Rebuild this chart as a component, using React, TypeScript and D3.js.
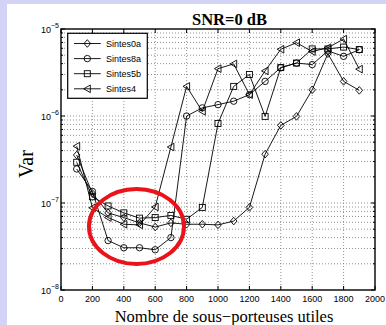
import React from "react";
import * as d3 from "d3";

const xs = [100, 200, 300, 400, 500, 600, 700, 800, 900, 1000, 1100, 1200, 1300, 1400, 1500, 1600, 1700, 1800, 1900];
const sintes0a = [3.56e-7, 1.29e-7, 7.7e-8, 6.8e-8, 5.9e-8, 5.3e-8, 5.9e-8, 5.7e-8, 5.7e-8, 5.6e-8, 6.2e-8, 8.9e-8, 3.64e-7, 7.8e-7, 9.9e-7, 2.0e-6, 5.2e-6, 2.5e-6, 1.97e-6];
const sintes8a = [2.46e-7, 1.36e-7, 3.7e-8, 3.06e-8, 3.06e-8, 2.9e-8, 4.0e-8, 1.0e-6, 1.24e-6, 1.35e-6, 1.48e-6, 1.76e-6, 2.5e-6, 3.6e-6, 4.06e-6, 3.9e-6, 5.6e-6, 4.85e-6, 5.78e-6];
const sintes5b = [2.94e-7, 1.18e-7, 9.25e-8, 7.7e-8, 6.7e-8, 6.8e-8, 7.2e-8, 6.5e-8, 8.9e-8, 8.2e-7, 2.19e-6, 3.0e-6, 9.9e-7, 3.6e-6, 4.06e-6, 5.9e-6, 5.9e-6, 6.2e-6, 5.8e-6];
const sintes4 = [4.5e-7, 8.8e-8, 6.8e-8, 5.7e-8, 5.6e-8, 9.0e-8, 4.4e-7, 2.19e-6, 1.13e-6, 3.5e-6, 3.97e-6, 1.76e-6, 3.3e-6, 5.85e-6, 6.96e-6, 5.5e-6, 6.1e-6, 7.65e-6, 3.46e-6];

const seriesNames = ["Sintes0a", "Sintes8a", "Sintes5b", "Sintes4"];
const markerTypes = ["diamond", "circle", "square", "triangle"];
const seriesValues = [sintes0a, sintes8a, sintes5b, sintes4];

const xTicks = [0, 200, 400, 600, 800, 1000, 1200, 1400, 1600, 1800, 2000];
const yMajor = [1e-8, 1e-7, 1e-6, 1e-5];
const yExp = ["−8", "−7", "−6", "−5"];

const W = 386, H = 325;
const L = 61, R = 375, T = 29, B = 290;

function Marker({ type, x, y }: { type: string; x: number; y: number }) {
  const s = "#000";
  if (type === "circle") return <circle cx={x} cy={y} r={3.2} fill="none" stroke={s} strokeWidth={0.9} />;
  if (type === "square") return <rect x={x - 3} y={y - 3} width={6} height={6} fill="none" stroke={s} strokeWidth={0.9} />;
  if (type === "diamond") return <path d={`M${x},${y - 3.8}L${x + 3.3},${y}L${x},${y + 3.8}L${x - 3.3},${y}Z`} fill="none" stroke={s} strokeWidth={0.9} />;
  return <path d={`M${x - 3.6},${y}L${x + 3},${y - 3.8}L${x + 3},${y + 3.8}Z`} fill="none" stroke={s} strokeWidth={0.9} />;
}

export default function App() {
  const x = d3.scaleLinear().domain([0, 2000]).range([L, R]);
  const y = d3.scaleLog().domain([1e-8, 1e-5]).range([B, T]);
  const minor: number[] = [];
  for (let e = -8; e < -5; e++) for (let m = 2; m <= 9; m++) minor.push(m * Math.pow(10, e));
  const line = d3.line<[number, number]>().x(d => x(d[0])).y(d => y(d[1]));
  const grid = "#777";
  return (
    <svg width={W} height={H} style={{ position: "absolute", left: 0, top: 0 }}>
      <rect x={0} y={0} width={W} height={H} fill="#d3d3f6" />
      <rect x={7} y={4} width={W - 7} height={H - 4} fill="#fff" />
      {/* grid */}
      {xTicks.slice(1, -1).map(t => (
        <line key={"gx" + t} x1={x(t)} x2={x(t)} y1={T} y2={B} stroke={grid} strokeWidth={0.8} strokeDasharray="1,2" />
      ))}
      {[...minor, ...yMajor.slice(1, -1)].map((t, i) => (
        <line key={"gy" + i} x1={L} x2={R} y1={y(t)} y2={y(t)} stroke={grid} strokeWidth={0.8} strokeDasharray="1,2" />
      ))}
      {/* ticks */}
      {xTicks.map(t => (
        <g key={"tx" + t}>
          <line x1={x(t)} x2={x(t)} y1={B} y2={B - 4} stroke="#000" />
          <line x1={x(t)} x2={x(t)} y1={T} y2={T + 4} stroke="#000" />
          <text x={x(t)} y={B + 12} textAnchor="middle" fontFamily="Liberation Sans, Arial, sans-serif" fontSize={9}>{t}</text>
        </g>
      ))}
      {yMajor.map((t, i) => (
        <g key={"ty" + i}>
          <line x1={L} x2={L + 4} y1={y(t)} y2={y(t)} stroke="#000" />
          <line x1={R} x2={R - 4} y1={y(t)} y2={y(t)} stroke="#000" />
          <text x={59} y={y(t) + 3.5} textAnchor="end" fontFamily="Liberation Sans, Arial, sans-serif" fontSize={9}>
            10<tspan dy={-5} fontSize={7}>{yExp[i]}</tspan>
          </text>
        </g>
      ))}
      {minor.map((t, i) => (
        <g key={"my" + i}>
          <line x1={L} x2={L + 2} y1={y(t)} y2={y(t)} stroke="#000" />
          <line x1={R} x2={R - 2} y1={y(t)} y2={y(t)} stroke="#000" />
        </g>
      ))}
      {/* series */}
      {seriesValues.map((vals, si) => (
        <g key={"s" + si}>
          <path d={line(xs.map((v, i) => [v, vals[i]]) as [number, number][]) || ""} fill="none" stroke="#000" strokeWidth={0.9} />
          {xs.map((v, i) => <Marker key={i} type={markerTypes[si]} x={x(v)} y={y(vals[i])} />)}
        </g>
      ))}
      <rect x={L} y={T} width={R - L} height={B - T} fill="none" stroke="#000" strokeWidth={1.4} />
      {/* legend */}
      <rect x={67.7} y={33.3} width={79.6} height={65} fill="#fff" stroke="#000" strokeWidth={1.2} />
      {seriesNames.map((n, i) => {
        const ly = 43.5 + i * 15.1;
        return (
          <g key={"lg" + i}>
            <line x1={74} x2={100.7} y1={ly} y2={ly} stroke="#000" strokeWidth={0.9} />
            <Marker type={markerTypes[i]} x={87.3} y={ly} />
            <text x={106} y={ly + 3.2} fontFamily="Liberation Sans, Arial, sans-serif" fontSize={9}>{n}</text>
          </g>
        );
      })}
      {/* titles */}
      <text x={229.5} y={25} textAnchor="middle" fontFamily="Liberation Serif, Times New Roman, serif" fontWeight="bold" fontSize={16.5}>SNR=0 dB</text>
      <text x={224} y={321.5} textAnchor="middle" fontFamily="Liberation Serif, Times New Roman, serif" fontSize={16.5}>Nombre de sous−porteuses utiles</text>
      <text transform={`translate(33,${164}) rotate(-90)`} textAnchor="middle" fontFamily="Liberation Serif, Times New Roman, serif" fontSize={20}>Var</text>
      {/* red ellipse */}
      <ellipse cx={136.5} cy={226.5} rx={47.5} ry={37.5} fill="none" stroke="#e8141a" strokeWidth={4} />
    </svg>
  );
}
